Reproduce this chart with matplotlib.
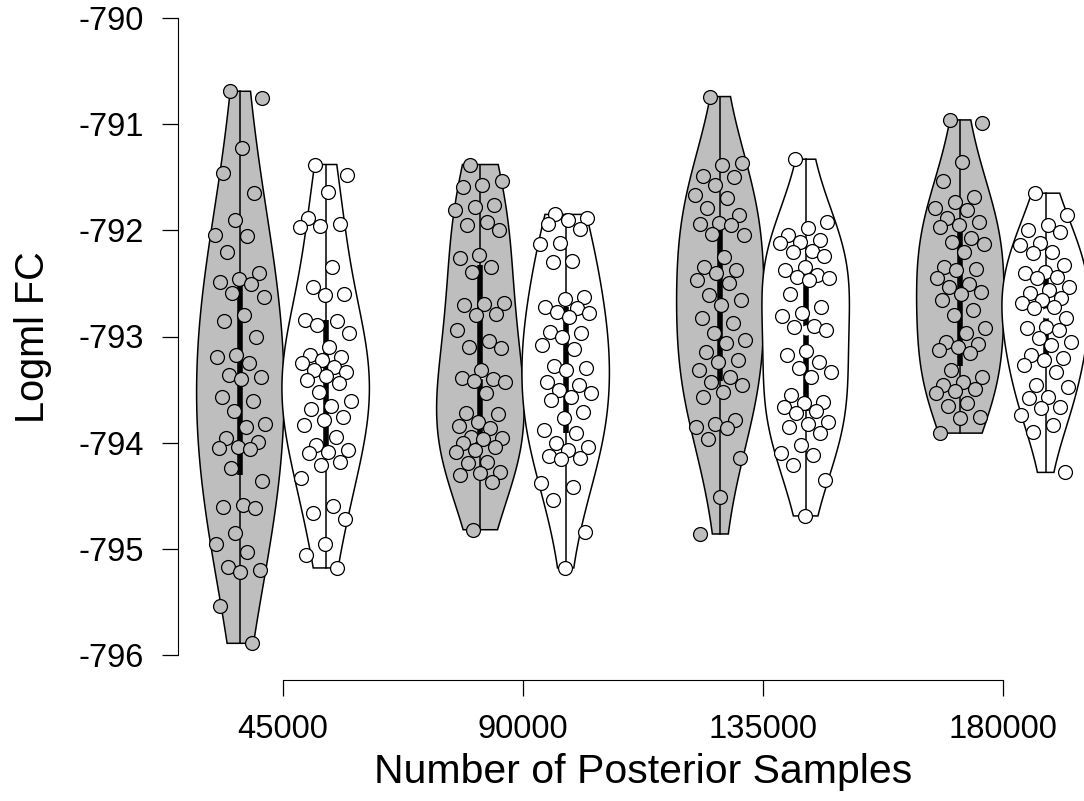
import matplotlib
matplotlib.use("Agg")
import matplotlib.pyplot as plt
import numpy as np

plt.rcParams['font.family'] = ['Liberation Sans', 'DejaVu Sans']
plt.rcParams['axes.unicode_minus'] = False

# sample sizes on the x axis
sizes = [45000, 90000, 135000, 180000]
tick_labels = ['45000', '90000', '135000', '180000']
y_ticks = [-796, -795, -794, -793, -792, -791, -790]

# logml values, grey (first method) and white (second method) per sample size
grey_45k = [-790.69, -790.75, -791.22, -791.46, -791.65, -791.90, -792.04, -792.05, -792.20,
            -792.40, -792.46, -792.49, -792.51, -792.59, -792.63, -792.80, -792.85, -793.00,
            -793.17, -793.19, -793.25, -793.36, -793.38, -793.40, -793.57, -793.61, -793.70,
            -793.82, -793.85, -793.96, -793.99, -794.04, -794.05, -794.06, -794.24, -794.36,
            -794.59, -794.61, -794.62, -794.85, -794.95, -795.03, -795.17, -795.20, -795.22,
            -795.54, -795.89]
white_45k = [-791.38, -791.48, -791.64, -791.88, -791.94, -791.96, -791.97, -792.35, -792.53,
             -792.60, -792.61, -792.84, -792.85, -792.89, -792.97, -793.10, -793.17, -793.19,
             -793.22, -793.25, -793.29, -793.32, -793.33, -793.37, -793.41, -793.44, -793.52,
             -793.61, -793.65, -793.68, -793.76, -793.79, -793.83, -793.95, -794.02, -794.07,
             -794.09, -794.10, -794.18, -794.21, -794.33, -794.60, -794.66, -794.72, -794.95,
             -795.06, -795.18]
grey_90k = [-791.38, -791.54, -791.57, -791.59, -791.76, -791.78, -791.81, -791.92, -791.95,
            -792.00, -792.23, -792.26, -792.35, -792.39, -792.68, -792.69, -792.70, -792.79,
            -792.80, -792.94, -793.04, -793.10, -793.11, -793.32, -793.39, -793.40, -793.42,
            -793.43, -793.53, -793.72, -793.73, -793.81, -793.84, -793.86, -793.95, -793.96,
            -793.97, -794.00, -794.04, -794.07, -794.09, -794.18, -794.19, -794.28, -794.29,
            -794.30, -794.37, -794.82]
white_90k = [-791.85, -791.88, -791.90, -791.94, -791.99, -792.12, -792.13, -792.29, -792.30,
             -792.63, -792.65, -792.72, -792.73, -792.77, -792.78, -792.82, -792.96, -792.97,
             -793.00, -793.08, -793.12, -793.28, -793.30, -793.32, -793.43, -793.46, -793.50,
             -793.53, -793.57, -793.60, -793.71, -793.77, -793.88, -793.91, -794.00, -794.04,
             -794.07, -794.13, -794.14, -794.15, -794.38, -794.42, -794.54, -794.84, -795.18]
grey_135k = [-790.74, -791.37, -791.38, -791.49, -791.50, -791.57, -791.67, -791.70, -791.79,
             -791.86, -791.93, -791.94, -791.95, -792.03, -792.04, -792.25, -792.35, -792.37,
             -792.40, -792.47, -792.50, -792.61, -792.66, -792.70, -792.83, -792.87, -792.97,
             -793.03, -793.06, -793.15, -793.22, -793.24, -793.32, -793.38, -793.43, -793.46,
             -793.52, -793.57, -793.79, -793.82, -793.85, -793.86, -793.97, -794.14, -794.51,
             -794.86]
white_135k = [-791.33, -791.92, -791.98, -792.04, -792.09, -792.11, -792.12, -792.19, -792.20,
              -792.24, -792.35, -792.37, -792.42, -792.44, -792.45, -792.47, -792.60, -792.72,
              -792.78, -792.81, -792.90, -792.91, -792.94, -793.14, -793.17, -793.24, -793.30,
              -793.33, -793.38, -793.55, -793.62, -793.63, -793.66, -793.70, -793.72, -793.81,
              -793.82, -793.85, -793.91, -794.02, -794.10, -794.12, -794.21, -794.35, -794.69]
grey_180k = [-790.96, -790.99, -791.36, -791.54, -791.69, -791.73, -791.79, -791.81, -791.88,
             -791.92, -791.95, -791.97, -792.07, -792.11, -792.13, -792.20, -792.35, -792.36,
             -792.37, -792.45, -792.51, -792.53, -792.58, -792.60, -792.66, -792.75, -792.80,
             -792.92, -792.97, -793.05, -793.07, -793.10, -793.13, -793.16, -793.32, -793.38,
             -793.43, -793.46, -793.49, -793.51, -793.53, -793.63, -793.65, -793.76, -793.77,
             -793.91]
white_180k = [-791.65, -791.86, -791.95, -792.00, -792.02, -792.12, -792.14, -792.20, -792.21,
              -792.33, -792.39, -792.40, -792.44, -792.45, -792.53, -792.56, -792.59, -792.64,
              -792.66, -792.68, -792.72, -792.73, -792.83, -792.91, -792.92, -792.94, -793.01,
              -793.05, -793.08, -793.17, -793.20, -793.22, -793.27, -793.33, -793.46, -793.48,
              -793.57, -793.58, -793.66, -793.67, -793.74, -793.83, -793.90, -794.28]

groups = [(grey_45k, white_45k), (grey_90k, white_90k),
          (grey_135k, white_135k), (grey_180k, white_180k)]

GREY = '#bebebe'
offset = 8000      # distance of each violin from the tick
half_w = 8200      # max half width of a violin
jit = 4800         # horizontal spread of the points


def violin(ax, data, pos, fill):
    d = np.asarray(data)
    n = len(d)
    h = 1.4 * d.std(ddof=1) * n ** (-0.2)
    y = np.linspace(d.min(), d.max(), 200)
    dens = np.exp(-0.5 * ((y[:, None] - d[None, :]) / h) ** 2).sum(axis=1)
    w = dens / dens.max() * half_w
    xs = np.concatenate([pos - w, (pos + w)[::-1]])
    ys = np.concatenate([y, y[::-1]])
    ax.fill(xs, ys, facecolor=fill, edgecolor='black', lw=1.1, zorder=1, clip_on=False)
    q1, med, q3 = np.percentile(d, [25, 50, 75])
    ax.plot([pos, pos], [d.min(), d.max()], color='black', lw=1.1, zorder=2)
    ax.plot([pos, pos], [q1, q3], color='black', lw=4, solid_capstyle='butt', zorder=2)
    ax.scatter([pos], [med], s=40, color='white', zorder=3)
    # jittered points
    k = np.arange(n)
    dx = ((k * 0.6180339887 + 0.3) % 1.0 - 0.5) * 2 * jit
    ax.scatter(pos + dx, d, s=100, facecolor=fill, edgecolor='black',
               linewidth=0.9, zorder=4, clip_on=False)


fig = plt.figure(figsize=(10.84, 8.01), dpi=100)
ax = fig.add_axes([178 / 1084, 1 - 655 / 801, 897 / 1084, 637 / 801])

for s, (g, wt) in zip(sizes, groups):
    violin(ax, g, s - offset, GREY)
    violin(ax, wt, s + offset, 'white')

ax.set_xlim(25312.5, 193500)
ax.set_ylim(-796, -790)

for side in ['top', 'right']:
    ax.spines[side].set_visible(False)
ax.spines['bottom'].set_position(('outward', 18))
ax.spines['bottom'].set_bounds(sizes[0], sizes[-1])
ax.spines['left'].set_bounds(-796, -790)

ax.set_xticks(sizes)
ax.set_xticklabels(tick_labels)
ax.set_yticks(y_ticks)
ax.set_yticklabels([str(t) for t in y_ticks])
ax.tick_params(length=11.5, width=0.9, labelsize=23.5, pad=13)

fig.text(643 / 1084, 1 - 772 / 801, 'Number of Posterior Samples', ha='center', va='center', fontsize=29.5)
fig.text(33 / 1084, 1 - 337 / 801, 'Logml FC', ha='center', va='center', rotation=90, fontsize=28.5)

fig.savefig('out.png', dpi=100)
